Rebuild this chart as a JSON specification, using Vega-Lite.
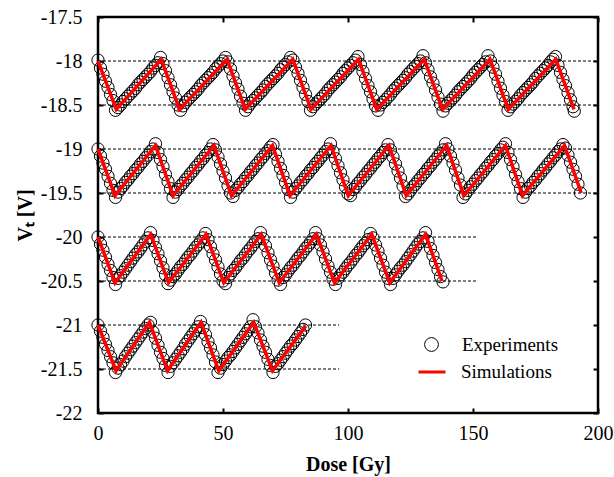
{
  "$schema": "https://vega.github.io/schema/vega-lite/v6.json",
  "width": 500,
  "height": 396,
  "autosize": {"type": "none"},
  "padding": {"left": 98, "top": 17, "right": 16, "bottom": 64},
  "background": "white",
  "config": {
    "view": {"stroke": "black", "strokeWidth": 2.5},
    "axis": {
      "domain": false,
      "grid": false,
      "ticks": true,
      "tickColor": "black",
      "tickWidth": 2,
      "tickSize": -5,
      "labelFont": "Liberation Serif",
      "labelFontSize": 20,
      "labelColor": "black",
      "labelFlush": false,
      "titleFont": "Liberation Serif",
      "titleFontSize": 20,
      "titleFontWeight": "bold",
      "titleColor": "black"
    },
    "legend": {
      "title": null,
      "orient": "none",
      "padding": 0,
      "labelFont": "Liberation Serif",
      "labelFontSize": 19,
      "labelColor": "black"
    }
  },
  "datasets": {
    "guides": [
      {"vt": -18.0, "from": 0, "to": 200},
      {"vt": -18.5, "from": 0, "to": 200},
      {"vt": -19.0, "from": 0, "to": 200},
      {"vt": -19.5, "from": 0, "to": 200},
      {"vt": -20.0, "from": 0, "to": 152},
      {"vt": -20.5, "from": 0, "to": 152},
      {"vt": -21.0, "from": 0, "to": 96.5},
      {"vt": -21.5, "from": 0, "to": 96.5}
    ],
    "sim": [
      {"run": 1, "dose": 0, "vt": -18.0}, {"run": 1, "dose": 7.3, "vt": -18.55}, {"run": 1, "dose": 25.3, "vt": -17.98}, {"run": 1, "dose": 32.6, "vt": -18.55},
      {"run": 1, "dose": 51.6, "vt": -17.98}, {"run": 1, "dose": 58.9, "vt": -18.55}, {"run": 1, "dose": 77.9, "vt": -17.98}, {"run": 1, "dose": 85.2, "vt": -18.55},
      {"run": 1, "dose": 104.2, "vt": -17.98}, {"run": 1, "dose": 111.5, "vt": -18.55}, {"run": 1, "dose": 130.5, "vt": -17.98}, {"run": 1, "dose": 137.8, "vt": -18.55},
      {"run": 1, "dose": 156.8, "vt": -17.98}, {"run": 1, "dose": 164.1, "vt": -18.55}, {"run": 1, "dose": 183.1, "vt": -17.98}, {"run": 1, "dose": 190.4, "vt": -18.55},
      {"run": 2, "dose": 0, "vt": -19.0}, {"run": 2, "dose": 6.8, "vt": -19.53}, {"run": 2, "dose": 23.0, "vt": -18.96}, {"run": 2, "dose": 30.0, "vt": -19.53},
      {"run": 2, "dose": 46.4, "vt": -18.96}, {"run": 2, "dose": 53.4, "vt": -19.53}, {"run": 2, "dose": 69.8, "vt": -18.96}, {"run": 2, "dose": 76.8, "vt": -19.53},
      {"run": 2, "dose": 93.2, "vt": -18.96}, {"run": 2, "dose": 100.1, "vt": -19.53}, {"run": 2, "dose": 116.4, "vt": -18.96}, {"run": 2, "dose": 123.3, "vt": -19.53},
      {"run": 2, "dose": 139.5, "vt": -18.96}, {"run": 2, "dose": 146.3, "vt": -19.53}, {"run": 2, "dose": 163.0, "vt": -18.96}, {"run": 2, "dose": 169.8, "vt": -19.53},
      {"run": 2, "dose": 186.6, "vt": -18.96}, {"run": 2, "dose": 193.3, "vt": -19.5},
      {"run": 3, "dose": 0, "vt": -20.0}, {"run": 3, "dose": 6.8, "vt": -20.52}, {"run": 3, "dose": 21.1, "vt": -19.97}, {"run": 3, "dose": 28.2, "vt": -20.52},
      {"run": 3, "dose": 43.2, "vt": -19.97}, {"run": 3, "dose": 50.3, "vt": -20.52}, {"run": 3, "dose": 65.3, "vt": -19.97}, {"run": 3, "dose": 72.5, "vt": -20.52},
      {"run": 3, "dose": 87.4, "vt": -19.97}, {"run": 3, "dose": 94.6, "vt": -20.52}, {"run": 3, "dose": 109.5, "vt": -19.97}, {"run": 3, "dose": 116.7, "vt": -20.52},
      {"run": 3, "dose": 131.0, "vt": -19.97}, {"run": 3, "dose": 137.6, "vt": -20.5},
      {"run": 4, "dose": 0, "vt": -21.0}, {"run": 4, "dose": 7.2, "vt": -21.52}, {"run": 4, "dose": 20.6, "vt": -20.97}, {"run": 4, "dose": 27.8, "vt": -21.52},
      {"run": 4, "dose": 41.2, "vt": -20.97}, {"run": 4, "dose": 48.3, "vt": -21.52}, {"run": 4, "dose": 62.3, "vt": -20.97}, {"run": 4, "dose": 69.8, "vt": -21.52},
      {"run": 4, "dose": 83.1, "vt": -21.01}
    ],
    "exp": [
      {"run":1,"dose":0,"vt":-17.99},{"run":1,"dose":1,"vt":-18.08},{"run":1,"dose":2,"vt":-18.15},{"run":1,"dose":3,"vt":-18.23},{"run":1,"dose":4,"vt":-18.30},{"run":1,"dose":5,"vt":-18.38},{"run":1,"dose":6,"vt":-18.45},{"run":1,"dose":7,"vt":-18.56},{"run":1,"dose":8,"vt":-18.53},{"run":1,"dose":9,"vt":-18.50},
      {"run":1,"dose":10,"vt":-18.46},{"run":1,"dose":11,"vt":-18.43},{"run":1,"dose":12,"vt":-18.40},{"run":1,"dose":13,"vt":-18.37},{"run":1,"dose":14,"vt":-18.34},{"run":1,"dose":15,"vt":-18.31},{"run":1,"dose":16,"vt":-18.27},{"run":1,"dose":17,"vt":-18.24},{"run":1,"dose":18,"vt":-18.21},{"run":1,"dose":19,"vt":-18.18},
      {"run":1,"dose":20,"vt":-18.15},{"run":1,"dose":21,"vt":-18.12},{"run":1,"dose":22,"vt":-18.08},{"run":1,"dose":23,"vt":-18.05},{"run":1,"dose":24,"vt":-18.02},{"run":1,"dose":25,"vt":-17.96},{"run":1,"dose":26,"vt":-18.03},{"run":1,"dose":27,"vt":-18.11},{"run":1,"dose":28,"vt":-18.19},{"run":1,"dose":29,"vt":-18.27},
      {"run":1,"dose":30,"vt":-18.35},{"run":1,"dose":31,"vt":-18.42},{"run":1,"dose":32,"vt":-18.50},{"run":1,"dose":33,"vt":-18.56},{"run":1,"dose":34,"vt":-18.51},{"run":1,"dose":35,"vt":-18.47},{"run":1,"dose":36,"vt":-18.44},{"run":1,"dose":37,"vt":-18.41},{"run":1,"dose":38,"vt":-18.38},{"run":1,"dose":39,"vt":-18.35},
      {"run":1,"dose":40,"vt":-18.32},{"run":1,"dose":41,"vt":-18.28},{"run":1,"dose":42,"vt":-18.25},{"run":1,"dose":43,"vt":-18.22},{"run":1,"dose":44,"vt":-18.19},{"run":1,"dose":45,"vt":-18.16},{"run":1,"dose":46,"vt":-18.13},{"run":1,"dose":47,"vt":-18.09},{"run":1,"dose":48,"vt":-18.06},{"run":1,"dose":49,"vt":-18.03},
      {"run":1,"dose":50,"vt":-18.00},{"run":1,"dose":51,"vt":-17.96},{"run":1,"dose":52,"vt":-18.01},{"run":1,"dose":53,"vt":-18.09},{"run":1,"dose":54,"vt":-18.17},{"run":1,"dose":55,"vt":-18.25},{"run":1,"dose":56,"vt":-18.32},{"run":1,"dose":57,"vt":-18.40},{"run":1,"dose":58,"vt":-18.48},{"run":1,"dose":59,"vt":-18.56},
      {"run":1,"dose":60,"vt":-18.52},{"run":1,"dose":61,"vt":-18.48},{"run":1,"dose":62,"vt":-18.45},{"run":1,"dose":63,"vt":-18.42},{"run":1,"dose":64,"vt":-18.39},{"run":1,"dose":65,"vt":-18.36},{"run":1,"dose":66,"vt":-18.33},{"run":1,"dose":67,"vt":-18.29},{"run":1,"dose":68,"vt":-18.26},{"run":1,"dose":69,"vt":-18.23},
      {"run":1,"dose":70,"vt":-18.20},{"run":1,"dose":71,"vt":-18.17},{"run":1,"dose":72,"vt":-18.14},{"run":1,"dose":73,"vt":-18.10},{"run":1,"dose":74,"vt":-18.07},{"run":1,"dose":75,"vt":-18.04},{"run":1,"dose":76,"vt":-18.01},{"run":1,"dose":77,"vt":-17.96},{"run":1,"dose":78,"vt":-17.99},{"run":1,"dose":79,"vt":-18.07},
      {"run":1,"dose":80,"vt":-18.14},{"run":1,"dose":81,"vt":-18.22},{"run":1,"dose":82,"vt":-18.30},{"run":1,"dose":83,"vt":-18.38},{"run":1,"dose":84,"vt":-18.46},{"run":1,"dose":85,"vt":-18.56},{"run":1,"dose":86,"vt":-18.52},{"run":1,"dose":87,"vt":-18.49},{"run":1,"dose":88,"vt":-18.46},{"run":1,"dose":89,"vt":-18.43},
      {"run":1,"dose":90,"vt":-18.40},{"run":1,"dose":91,"vt":-18.37},{"run":1,"dose":92,"vt":-18.33},{"run":1,"dose":93,"vt":-18.30},{"run":1,"dose":94,"vt":-18.27},{"run":1,"dose":95,"vt":-18.24},{"run":1,"dose":96,"vt":-18.21},{"run":1,"dose":97,"vt":-18.18},{"run":1,"dose":98,"vt":-18.14},{"run":1,"dose":99,"vt":-18.11},
      {"run":1,"dose":100,"vt":-18.08},{"run":1,"dose":101,"vt":-18.05},{"run":1,"dose":102,"vt":-18.02},{"run":1,"dose":103,"vt":-17.99},{"run":1,"dose":104,"vt":-17.95},{"run":1,"dose":105,"vt":-18.04},{"run":1,"dose":106,"vt":-18.12},{"run":1,"dose":107,"vt":-18.20},{"run":1,"dose":108,"vt":-18.28},{"run":1,"dose":109,"vt":-18.35},
      {"run":1,"dose":110,"vt":-18.43},{"run":1,"dose":111,"vt":-18.51},{"run":1,"dose":112,"vt":-18.56},{"run":1,"dose":113,"vt":-18.50},{"run":1,"dose":114,"vt":-18.47},{"run":1,"dose":115,"vt":-18.44},{"run":1,"dose":116,"vt":-18.41},{"run":1,"dose":117,"vt":-18.38},{"run":1,"dose":118,"vt":-18.34},{"run":1,"dose":119,"vt":-18.31},
      {"run":1,"dose":120,"vt":-18.28},{"run":1,"dose":121,"vt":-18.25},{"run":1,"dose":122,"vt":-18.22},{"run":1,"dose":123,"vt":-18.19},{"run":1,"dose":124,"vt":-18.15},{"run":1,"dose":125,"vt":-18.12},{"run":1,"dose":126,"vt":-18.09},{"run":1,"dose":127,"vt":-18.06},{"run":1,"dose":128,"vt":-18.03},{"run":1,"dose":129,"vt":-18.00},
      {"run":1,"dose":130,"vt":-17.94},{"run":1,"dose":131,"vt":-18.02},{"run":1,"dose":132,"vt":-18.10},{"run":1,"dose":133,"vt":-18.18},{"run":1,"dose":134,"vt":-18.25},{"run":1,"dose":135,"vt":-18.33},{"run":1,"dose":136,"vt":-18.41},{"run":1,"dose":137,"vt":-18.49},{"run":1,"dose":138,"vt":-18.57},{"run":1,"dose":139,"vt":-18.51},
      {"run":1,"dose":140,"vt":-18.48},{"run":1,"dose":141,"vt":-18.45},{"run":1,"dose":142,"vt":-18.42},{"run":1,"dose":143,"vt":-18.39},{"run":1,"dose":144,"vt":-18.35},{"run":1,"dose":145,"vt":-18.32},{"run":1,"dose":146,"vt":-18.29},{"run":1,"dose":147,"vt":-18.26},{"run":1,"dose":148,"vt":-18.23},{"run":1,"dose":149,"vt":-18.20},
      {"run":1,"dose":150,"vt":-18.16},{"run":1,"dose":151,"vt":-18.13},{"run":1,"dose":152,"vt":-18.10},{"run":1,"dose":153,"vt":-18.07},{"run":1,"dose":154,"vt":-18.04},{"run":1,"dose":155,"vt":-18.01},{"run":1,"dose":156,"vt":-17.94},{"run":1,"dose":157,"vt":-18.00},{"run":1,"dose":158,"vt":-18.07},{"run":1,"dose":159,"vt":-18.15},
      {"run":1,"dose":160,"vt":-18.23},{"run":1,"dose":161,"vt":-18.31},{"run":1,"dose":162,"vt":-18.39},{"run":1,"dose":163,"vt":-18.46},{"run":1,"dose":164,"vt":-18.56},{"run":1,"dose":165,"vt":-18.52},{"run":1,"dose":166,"vt":-18.49},{"run":1,"dose":167,"vt":-18.46},{"run":1,"dose":168,"vt":-18.43},{"run":1,"dose":169,"vt":-18.39},
      {"run":1,"dose":170,"vt":-18.36},{"run":1,"dose":171,"vt":-18.33},{"run":1,"dose":172,"vt":-18.30},{"run":1,"dose":173,"vt":-18.27},{"run":1,"dose":174,"vt":-18.24},{"run":1,"dose":175,"vt":-18.20},{"run":1,"dose":176,"vt":-18.17},{"run":1,"dose":177,"vt":-18.14},{"run":1,"dose":178,"vt":-18.11},{"run":1,"dose":179,"vt":-18.08},
      {"run":1,"dose":180,"vt":-18.05},{"run":1,"dose":181,"vt":-18.01},{"run":1,"dose":182,"vt":-17.98},{"run":1,"dose":183,"vt":-17.95},{"run":1,"dose":184,"vt":-18.05},{"run":1,"dose":185,"vt":-18.13},{"run":1,"dose":186,"vt":-18.21},{"run":1,"dose":187,"vt":-18.28},{"run":1,"dose":188,"vt":-18.36},{"run":1,"dose":189,"vt":-18.44},
      {"run":1,"dose":190,"vt":-18.52},{"run":1,"dose":190.5,"vt":-18.57},
      {"run":2,"dose":0,"vt":-19.00},{"run":2,"dose":1,"vt":-19.08},{"run":2,"dose":2,"vt":-19.16},{"run":2,"dose":3,"vt":-19.23},{"run":2,"dose":4,"vt":-19.31},{"run":2,"dose":5,"vt":-19.39},{"run":2,"dose":6,"vt":-19.47},{"run":2,"dose":7,"vt":-19.55},{"run":2,"dose":8,"vt":-19.49},{"run":2,"dose":9,"vt":-19.45},
      {"run":2,"dose":10,"vt":-19.42},{"run":2,"dose":11,"vt":-19.38},{"run":2,"dose":12,"vt":-19.35},{"run":2,"dose":13,"vt":-19.31},{"run":2,"dose":14,"vt":-19.28},{"run":2,"dose":15,"vt":-19.24},{"run":2,"dose":16,"vt":-19.21},{"run":2,"dose":17,"vt":-19.17},{"run":2,"dose":18,"vt":-19.14},{"run":2,"dose":19,"vt":-19.10},
      {"run":2,"dose":20,"vt":-19.07},{"run":2,"dose":21,"vt":-19.03},{"run":2,"dose":22,"vt":-19.00},{"run":2,"dose":23,"vt":-18.94},{"run":2,"dose":24,"vt":-19.04},{"run":2,"dose":25,"vt":-19.12},{"run":2,"dose":26,"vt":-19.20},{"run":2,"dose":27,"vt":-19.29},{"run":2,"dose":28,"vt":-19.37},{"run":2,"dose":29,"vt":-19.45},
      {"run":2,"dose":30,"vt":-19.55},{"run":2,"dose":31,"vt":-19.49},{"run":2,"dose":32,"vt":-19.46},{"run":2,"dose":33,"vt":-19.42},{"run":2,"dose":34,"vt":-19.39},{"run":2,"dose":35,"vt":-19.35},{"run":2,"dose":36,"vt":-19.32},{"run":2,"dose":37,"vt":-19.28},{"run":2,"dose":38,"vt":-19.25},{"run":2,"dose":39,"vt":-19.21},
      {"run":2,"dose":40,"vt":-19.18},{"run":2,"dose":41,"vt":-19.14},{"run":2,"dose":42,"vt":-19.11},{"run":2,"dose":43,"vt":-19.07},{"run":2,"dose":44,"vt":-19.04},{"run":2,"dose":45,"vt":-19.00},{"run":2,"dose":46,"vt":-18.95},{"run":2,"dose":47,"vt":-19.01},{"run":2,"dose":48,"vt":-19.09},{"run":2,"dose":49,"vt":-19.17},
      {"run":2,"dose":50,"vt":-19.25},{"run":2,"dose":51,"vt":-19.33},{"run":2,"dose":52,"vt":-19.42},{"run":2,"dose":53,"vt":-19.50},{"run":2,"dose":54,"vt":-19.54},{"run":2,"dose":55,"vt":-19.47},{"run":2,"dose":56,"vt":-19.44},{"run":2,"dose":57,"vt":-19.40},{"run":2,"dose":58,"vt":-19.37},{"run":2,"dose":59,"vt":-19.33},
      {"run":2,"dose":60,"vt":-19.30},{"run":2,"dose":61,"vt":-19.26},{"run":2,"dose":62,"vt":-19.23},{"run":2,"dose":63,"vt":-19.19},{"run":2,"dose":64,"vt":-19.16},{"run":2,"dose":65,"vt":-19.12},{"run":2,"dose":66,"vt":-19.09},{"run":2,"dose":67,"vt":-19.05},{"run":2,"dose":68,"vt":-19.02},{"run":2,"dose":69,"vt":-18.98},
      {"run":2,"dose":70,"vt":-18.95},{"run":2,"dose":71,"vt":-19.06},{"run":2,"dose":72,"vt":-19.14},{"run":2,"dose":73,"vt":-19.22},{"run":2,"dose":74,"vt":-19.30},{"run":2,"dose":75,"vt":-19.38},{"run":2,"dose":76,"vt":-19.46},{"run":2,"dose":77,"vt":-19.55},{"run":2,"dose":78,"vt":-19.49},{"run":2,"dose":79,"vt":-19.45},
      {"run":2,"dose":80,"vt":-19.42},{"run":2,"dose":81,"vt":-19.38},{"run":2,"dose":82,"vt":-19.35},{"run":2,"dose":83,"vt":-19.31},{"run":2,"dose":84,"vt":-19.28},{"run":2,"dose":85,"vt":-19.24},{"run":2,"dose":86,"vt":-19.21},{"run":2,"dose":87,"vt":-19.17},{"run":2,"dose":88,"vt":-19.14},{"run":2,"dose":89,"vt":-19.10},
      {"run":2,"dose":90,"vt":-19.07},{"run":2,"dose":91,"vt":-19.03},{"run":2,"dose":92,"vt":-19.00},{"run":2,"dose":93,"vt":-18.94},{"run":2,"dose":94,"vt":-19.03},{"run":2,"dose":95,"vt":-19.11},{"run":2,"dose":96,"vt":-19.19},{"run":2,"dose":97,"vt":-19.27},{"run":2,"dose":98,"vt":-19.35},{"run":2,"dose":99,"vt":-19.43},
      {"run":2,"dose":100,"vt":-19.51},{"run":2,"dose":101,"vt":-19.53},{"run":2,"dose":102,"vt":-19.46},{"run":2,"dose":103,"vt":-19.43},{"run":2,"dose":104,"vt":-19.39},{"run":2,"dose":105,"vt":-19.36},{"run":2,"dose":106,"vt":-19.32},{"run":2,"dose":107,"vt":-19.29},{"run":2,"dose":108,"vt":-19.25},{"run":2,"dose":109,"vt":-19.22},
      {"run":2,"dose":110,"vt":-19.18},{"run":2,"dose":111,"vt":-19.15},{"run":2,"dose":112,"vt":-19.11},{"run":2,"dose":113,"vt":-19.08},{"run":2,"dose":114,"vt":-19.04},{"run":2,"dose":115,"vt":-19.01},{"run":2,"dose":116,"vt":-18.95},{"run":2,"dose":117,"vt":-19.01},{"run":2,"dose":118,"vt":-19.09},{"run":2,"dose":119,"vt":-19.17},
      {"run":2,"dose":120,"vt":-19.25},{"run":2,"dose":121,"vt":-19.33},{"run":2,"dose":122,"vt":-19.42},{"run":2,"dose":123,"vt":-19.54},{"run":2,"dose":124,"vt":-19.51},{"run":2,"dose":125,"vt":-19.47},{"run":2,"dose":126,"vt":-19.43},{"run":2,"dose":127,"vt":-19.40},{"run":2,"dose":128,"vt":-19.36},{"run":2,"dose":129,"vt":-19.33},
      {"run":2,"dose":130,"vt":-19.29},{"run":2,"dose":131,"vt":-19.26},{"run":2,"dose":132,"vt":-19.22},{"run":2,"dose":133,"vt":-19.19},{"run":2,"dose":134,"vt":-19.15},{"run":2,"dose":135,"vt":-19.12},{"run":2,"dose":136,"vt":-19.08},{"run":2,"dose":137,"vt":-19.05},{"run":2,"dose":138,"vt":-19.01},{"run":2,"dose":139,"vt":-18.94},
      {"run":2,"dose":140,"vt":-19.00},{"run":2,"dose":141,"vt":-19.08},{"run":2,"dose":142,"vt":-19.16},{"run":2,"dose":143,"vt":-19.24},{"run":2,"dose":144,"vt":-19.33},{"run":2,"dose":145,"vt":-19.41},{"run":2,"dose":146,"vt":-19.55},{"run":2,"dose":147,"vt":-19.51},{"run":2,"dose":148,"vt":-19.47},{"run":2,"dose":149,"vt":-19.43},
      {"run":2,"dose":150,"vt":-19.40},{"run":2,"dose":151,"vt":-19.36},{"run":2,"dose":152,"vt":-19.33},{"run":2,"dose":153,"vt":-19.29},{"run":2,"dose":154,"vt":-19.26},{"run":2,"dose":155,"vt":-19.22},{"run":2,"dose":156,"vt":-19.19},{"run":2,"dose":157,"vt":-19.15},{"run":2,"dose":158,"vt":-19.12},{"run":2,"dose":159,"vt":-19.08},
      {"run":2,"dose":160,"vt":-19.05},{"run":2,"dose":161,"vt":-19.01},{"run":2,"dose":162,"vt":-18.98},{"run":2,"dose":163,"vt":-18.94},{"run":2,"dose":164,"vt":-19.04},{"run":2,"dose":165,"vt":-19.12},{"run":2,"dose":166,"vt":-19.20},{"run":2,"dose":167,"vt":-19.29},{"run":2,"dose":168,"vt":-19.37},{"run":2,"dose":169,"vt":-19.45},
      {"run":2,"dose":170,"vt":-19.55},{"run":2,"dose":171,"vt":-19.49},{"run":2,"dose":172,"vt":-19.45},{"run":2,"dose":173,"vt":-19.42},{"run":2,"dose":174,"vt":-19.38},{"run":2,"dose":175,"vt":-19.35},{"run":2,"dose":176,"vt":-19.31},{"run":2,"dose":177,"vt":-19.28},{"run":2,"dose":178,"vt":-19.24},{"run":2,"dose":179,"vt":-19.21},
      {"run":2,"dose":180,"vt":-19.17},{"run":2,"dose":181,"vt":-19.14},{"run":2,"dose":182,"vt":-19.10},{"run":2,"dose":183,"vt":-19.07},{"run":2,"dose":184,"vt":-19.03},{"run":2,"dose":185,"vt":-19.00},{"run":2,"dose":186,"vt":-18.95},{"run":2,"dose":187,"vt":-18.99},{"run":2,"dose":188,"vt":-19.07},{"run":2,"dose":189,"vt":-19.15},
      {"run":2,"dose":190,"vt":-19.23},{"run":2,"dose":191,"vt":-19.31},{"run":2,"dose":192,"vt":-19.40},{"run":2,"dose":193,"vt":-19.50},
      {"run":3,"dose":0,"vt":-20.00},{"run":3,"dose":1,"vt":-20.08},{"run":3,"dose":2,"vt":-20.15},{"run":3,"dose":3,"vt":-20.23},{"run":3,"dose":4,"vt":-20.31},{"run":3,"dose":5,"vt":-20.38},{"run":3,"dose":6,"vt":-20.46},{"run":3,"dose":7,"vt":-20.54},{"run":3,"dose":8,"vt":-20.47},{"run":3,"dose":9,"vt":-20.44},
      {"run":3,"dose":10,"vt":-20.40},{"run":3,"dose":11,"vt":-20.36},{"run":3,"dose":12,"vt":-20.32},{"run":3,"dose":13,"vt":-20.28},{"run":3,"dose":14,"vt":-20.24},{"run":3,"dose":15,"vt":-20.20},{"run":3,"dose":16,"vt":-20.17},{"run":3,"dose":17,"vt":-20.13},{"run":3,"dose":18,"vt":-20.09},{"run":3,"dose":19,"vt":-20.05},
      {"run":3,"dose":20,"vt":-20.01},{"run":3,"dose":21,"vt":-19.95},{"run":3,"dose":22,"vt":-20.04},{"run":3,"dose":23,"vt":-20.12},{"run":3,"dose":24,"vt":-20.19},{"run":3,"dose":25,"vt":-20.27},{"run":3,"dose":26,"vt":-20.35},{"run":3,"dose":27,"vt":-20.43},{"run":3,"dose":28,"vt":-20.53},{"run":3,"dose":29,"vt":-20.49},
      {"run":3,"dose":30,"vt":-20.45},{"run":3,"dose":31,"vt":-20.42},{"run":3,"dose":32,"vt":-20.38},{"run":3,"dose":33,"vt":-20.34},{"run":3,"dose":34,"vt":-20.31},{"run":3,"dose":35,"vt":-20.27},{"run":3,"dose":36,"vt":-20.23},{"run":3,"dose":37,"vt":-20.20},{"run":3,"dose":38,"vt":-20.16},{"run":3,"dose":39,"vt":-20.12},
      {"run":3,"dose":40,"vt":-20.09},{"run":3,"dose":41,"vt":-20.05},{"run":3,"dose":42,"vt":-20.01},{"run":3,"dose":43,"vt":-19.96},{"run":3,"dose":44,"vt":-20.03},{"run":3,"dose":45,"vt":-20.11},{"run":3,"dose":46,"vt":-20.19},{"run":3,"dose":47,"vt":-20.26},{"run":3,"dose":48,"vt":-20.34},{"run":3,"dose":49,"vt":-20.42},
      {"run":3,"dose":50,"vt":-20.50},{"run":3,"dose":51,"vt":-20.53},{"run":3,"dose":52,"vt":-20.46},{"run":3,"dose":53,"vt":-20.42},{"run":3,"dose":54,"vt":-20.38},{"run":3,"dose":55,"vt":-20.35},{"run":3,"dose":56,"vt":-20.31},{"run":3,"dose":57,"vt":-20.27},{"run":3,"dose":58,"vt":-20.24},{"run":3,"dose":59,"vt":-20.20},
      {"run":3,"dose":60,"vt":-20.16},{"run":3,"dose":61,"vt":-20.13},{"run":3,"dose":62,"vt":-20.09},{"run":3,"dose":63,"vt":-20.05},{"run":3,"dose":64,"vt":-20.02},{"run":3,"dose":65,"vt":-19.95},{"run":3,"dose":66,"vt":-20.02},{"run":3,"dose":67,"vt":-20.10},{"run":3,"dose":68,"vt":-20.18},{"run":3,"dose":69,"vt":-20.26},
      {"run":3,"dose":70,"vt":-20.33},{"run":3,"dose":71,"vt":-20.41},{"run":3,"dose":72,"vt":-20.49},{"run":3,"dose":73,"vt":-20.54},{"run":3,"dose":74,"vt":-20.46},{"run":3,"dose":75,"vt":-20.43},{"run":3,"dose":76,"vt":-20.39},{"run":3,"dose":77,"vt":-20.35},{"run":3,"dose":78,"vt":-20.32},{"run":3,"dose":79,"vt":-20.28},
      {"run":3,"dose":80,"vt":-20.24},{"run":3,"dose":81,"vt":-20.21},{"run":3,"dose":82,"vt":-20.17},{"run":3,"dose":83,"vt":-20.13},{"run":3,"dose":84,"vt":-20.10},{"run":3,"dose":85,"vt":-20.06},{"run":3,"dose":86,"vt":-20.02},{"run":3,"dose":87,"vt":-19.95},{"run":3,"dose":88,"vt":-20.02},{"run":3,"dose":89,"vt":-20.09},
      {"run":3,"dose":90,"vt":-20.17},{"run":3,"dose":91,"vt":-20.25},{"run":3,"dose":92,"vt":-20.33},{"run":3,"dose":93,"vt":-20.40},{"run":3,"dose":94,"vt":-20.48},{"run":3,"dose":95,"vt":-20.54},{"run":3,"dose":96,"vt":-20.47},{"run":3,"dose":97,"vt":-20.43},{"run":3,"dose":98,"vt":-20.40},{"run":3,"dose":99,"vt":-20.36},
      {"run":3,"dose":100,"vt":-20.32},{"run":3,"dose":101,"vt":-20.29},{"run":3,"dose":102,"vt":-20.25},{"run":3,"dose":103,"vt":-20.21},{"run":3,"dose":104,"vt":-20.18},{"run":3,"dose":105,"vt":-20.14},{"run":3,"dose":106,"vt":-20.10},{"run":3,"dose":107,"vt":-20.07},{"run":3,"dose":108,"vt":-20.03},{"run":3,"dose":109,"vt":-19.96},
      {"run":3,"dose":110,"vt":-20.01},{"run":3,"dose":111,"vt":-20.09},{"run":3,"dose":112,"vt":-20.16},{"run":3,"dose":113,"vt":-20.24},{"run":3,"dose":114,"vt":-20.32},{"run":3,"dose":115,"vt":-20.40},{"run":3,"dose":116,"vt":-20.47},{"run":3,"dose":117,"vt":-20.54},{"run":3,"dose":118,"vt":-20.47},{"run":3,"dose":119,"vt":-20.43},
      {"run":3,"dose":120,"vt":-20.39},{"run":3,"dose":121,"vt":-20.35},{"run":3,"dose":122,"vt":-20.32},{"run":3,"dose":123,"vt":-20.28},{"run":3,"dose":124,"vt":-20.24},{"run":3,"dose":125,"vt":-20.20},{"run":3,"dose":126,"vt":-20.16},{"run":3,"dose":127,"vt":-20.12},{"run":3,"dose":128,"vt":-20.08},{"run":3,"dose":129,"vt":-20.05},
      {"run":3,"dose":130,"vt":-20.01},{"run":3,"dose":131,"vt":-19.95},{"run":3,"dose":132,"vt":-20.05},{"run":3,"dose":133,"vt":-20.13},{"run":3,"dose":134,"vt":-20.21},{"run":3,"dose":135,"vt":-20.29},{"run":3,"dose":136,"vt":-20.37},{"run":3,"dose":137,"vt":-20.45},{"run":3,"dose":138,"vt":-20.51},
      {"run":4,"dose":0,"vt":-21.00},{"run":4,"dose":1,"vt":-21.07},{"run":4,"dose":2,"vt":-21.14},{"run":4,"dose":3,"vt":-21.22},{"run":4,"dose":4,"vt":-21.29},{"run":4,"dose":5,"vt":-21.36},{"run":4,"dose":6,"vt":-21.43},{"run":4,"dose":7,"vt":-21.54},{"run":4,"dose":8,"vt":-21.49},{"run":4,"dose":9,"vt":-21.45},
      {"run":4,"dose":10,"vt":-21.41},{"run":4,"dose":11,"vt":-21.36},{"run":4,"dose":12,"vt":-21.32},{"run":4,"dose":13,"vt":-21.28},{"run":4,"dose":14,"vt":-21.24},{"run":4,"dose":15,"vt":-21.20},{"run":4,"dose":16,"vt":-21.16},{"run":4,"dose":17,"vt":-21.12},{"run":4,"dose":18,"vt":-21.08},{"run":4,"dose":19,"vt":-21.04},
      {"run":4,"dose":20,"vt":-21.00},{"run":4,"dose":21,"vt":-20.97},{"run":4,"dose":22,"vt":-21.08},{"run":4,"dose":23,"vt":-21.15},{"run":4,"dose":24,"vt":-21.23},{"run":4,"dose":25,"vt":-21.31},{"run":4,"dose":26,"vt":-21.38},{"run":4,"dose":27,"vt":-21.46},{"run":4,"dose":28,"vt":-21.54},{"run":4,"dose":29,"vt":-21.47},
      {"run":4,"dose":30,"vt":-21.43},{"run":4,"dose":31,"vt":-21.39},{"run":4,"dose":32,"vt":-21.35},{"run":4,"dose":33,"vt":-21.31},{"run":4,"dose":34,"vt":-21.27},{"run":4,"dose":35,"vt":-21.22},{"run":4,"dose":36,"vt":-21.18},{"run":4,"dose":37,"vt":-21.14},{"run":4,"dose":38,"vt":-21.10},{"run":4,"dose":39,"vt":-21.06},
      {"run":4,"dose":40,"vt":-21.02},{"run":4,"dose":41,"vt":-20.96},{"run":4,"dose":42,"vt":-21.03},{"run":4,"dose":43,"vt":-21.11},{"run":4,"dose":44,"vt":-21.19},{"run":4,"dose":45,"vt":-21.26},{"run":4,"dose":46,"vt":-21.34},{"run":4,"dose":47,"vt":-21.42},{"run":4,"dose":48,"vt":-21.54},{"run":4,"dose":49,"vt":-21.49},
      {"run":4,"dose":50,"vt":-21.45},{"run":4,"dose":51,"vt":-21.41},{"run":4,"dose":52,"vt":-21.37},{"run":4,"dose":53,"vt":-21.34},{"run":4,"dose":54,"vt":-21.30},{"run":4,"dose":55,"vt":-21.26},{"run":4,"dose":56,"vt":-21.22},{"run":4,"dose":57,"vt":-21.18},{"run":4,"dose":58,"vt":-21.14},{"run":4,"dose":59,"vt":-21.10},
      {"run":4,"dose":60,"vt":-21.06},{"run":4,"dose":61,"vt":-21.02},{"run":4,"dose":62,"vt":-20.94},{"run":4,"dose":63,"vt":-21.02},{"run":4,"dose":64,"vt":-21.09},{"run":4,"dose":65,"vt":-21.17},{"run":4,"dose":66,"vt":-21.24},{"run":4,"dose":67,"vt":-21.31},{"run":4,"dose":68,"vt":-21.39},{"run":4,"dose":69,"vt":-21.46},
      {"run":4,"dose":70,"vt":-21.54},{"run":4,"dose":71,"vt":-21.47},{"run":4,"dose":72,"vt":-21.44},{"run":4,"dose":73,"vt":-21.40},{"run":4,"dose":74,"vt":-21.36},{"run":4,"dose":75,"vt":-21.32},{"run":4,"dose":76,"vt":-21.28},{"run":4,"dose":77,"vt":-21.24},{"run":4,"dose":78,"vt":-21.21},{"run":4,"dose":79,"vt":-21.17},
      {"run":4,"dose":80,"vt":-21.13},{"run":4,"dose":81,"vt":-21.09},{"run":4,"dose":82,"vt":-21.05},{"run":4,"dose":83,"vt":-21.00}
    ]
  },
  "layer": [
    {
      "data": {"name": "guides"},
      "mark": {"type": "rule", "color": "black", "strokeWidth": 1, "strokeDash": [3, 2]},
      "encoding": {
        "y": {"field": "vt", "type": "quantitative", "axis": null, "scale": {"domain": [-22, -17.5], "nice": false, "zero": false}},
        "x": {"field": "from", "type": "quantitative", "axis": null, "scale": {"domain": [0, 200], "nice": false, "zero": false}},
        "x2": {"field": "to"}
      }
    },
    {
      "data": {"name": "exp"},
      "mark": {"type": "point", "shape": "circle", "filled": false, "size": 150, "strokeWidth": 1, "opacity": 1},
      "encoding": {
        "x": {
          "field": "dose", "type": "quantitative",
          "scale": {"domain": [0, 200], "nice": false, "zero": false},
          "axis": {"orient": "bottom", "values": [0, 50, 100, 150, 200], "title": "Dose [Gy]", "labelFont": "Liberation Serif", "labelFontSize": 20, "labelPadding": 15, "titlePadding": 11}
        },
        "y": {
          "field": "vt", "type": "quantitative",
          "scale": {"domain": [-22, -17.5], "nice": false, "zero": false},
          "axis": {"orient": "left", "values": [-22, -21.5, -21, -20.5, -20, -19.5, -19, -18.5, -18, -17.5], "labelExpr": "datum.value + ''", "title": "Vₜ [V]", "labelFont": "Liberation Serif", "labelFontSize": 20, "labelPadding": 21, "titlePadding": 5}
        },
        "stroke": {
          "datum": "Experiments",
          "scale": {"domain": ["Experiments"], "range": ["black"]},
          "legend": {
            "legendX": 324,
            "legendY": 318,
            "symbolType": "circle",
            "symbolSize": 190,
            "symbolStrokeWidth": 1,
            "symbolFillColor": "transparent",
            "labelOffset": 21
          }
        }
      }
    },
    {
      "data": {"name": "sim"},
      "mark": {"type": "line", "strokeWidth": 3.5},
      "encoding": {
        "x": {
          "field": "dose", "type": "quantitative",
          "scale": {"domain": [0, 200], "nice": false, "zero": false},
          "axis": {"orient": "top", "values": [0, 50, 100, 150, 200], "labels": false, "title": null}
        },
        "y": {
          "field": "vt", "type": "quantitative",
          "scale": {"domain": [-22, -17.5], "nice": false, "zero": false},
          "axis": {"orient": "right", "values": [-22, -21.5, -21, -20.5, -20, -19.5, -19, -18.5, -18, -17.5], "labels": false, "title": null}
        },
        "detail": {"field": "run"},
        "stroke": {
          "datum": "Simulations",
          "scale": {"domain": ["Simulations"], "range": ["#ff0000"]},
          "legend": {
            "legendX": 319,
            "legendY": 340,
            "symbolType": "stroke",
            "symbolSize": 729,
            "symbolStrokeWidth": 3,
            "labelOffset": 14
          }
        }
      }
    }
  ],
  "resolve": {
    "axis": {"x": "independent", "y": "independent"},
    "scale": {"stroke": "independent"},
    "legend": {"stroke": "independent"}
  }
}
